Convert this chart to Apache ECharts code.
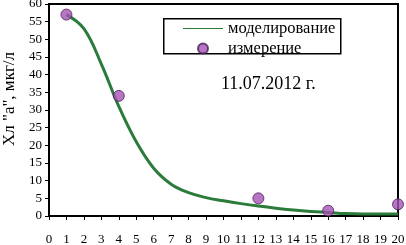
<!DOCTYPE html>
<html>
<head>
<meta charset="utf-8">
<script src="https://cdn.jsdelivr.net/npm/echarts@6/dist/echarts.min.js"></script>
<style>
  html, body { margin: 0; padding: 0; background: #fff; }
  #chart { width: 406px; height: 245px; }
</style>
</head>
<body>
<div id="chart"></div>
<script>
// модельная кривая (сутки, мкг/л)
var modelDays = [1, 2, 3, 4, 5, 6, 7, 8, 9, 10, 11, 12, 13, 14, 15, 16, 17, 18, 19, 20];
var modelVals = [57, 53, 43, 31, 21, 13.5, 9, 6.6, 5.2, 4.3, 3.5, 2.8, 2.2, 1.7, 1.3, 1.0, 0.7, 0.6, 0.6, 0.6];
// измерения
var measDays = [1, 4, 12, 16, 20];
var measVals = [57, 34, 5, 1.5, 3.3];

var serif = 'Liberation Serif';

var chart = echarts.init(document.getElementById('chart'));

chart.setOption({
    animation: false,
    textStyle: { fontFamily: serif, color: '#000' },
    grid: {
        left: 49, right: 8, top: 4, bottom: 29,
        show: true, borderColor: '#000', borderWidth: 2,
        containLabel: false,
        outerBoundsMode: 'none'
    },
    // рамка легенды
    graphic: [{
        type: 'rect',
        left: 163, top: 18, z: 90,
        shape: { width: 177, height: 35 },
        style: { fill: '#fff', stroke: '#000', lineWidth: 1.5 }
    }],
    title: {
        text: '11.07.2012 г.',
        left: 216, top: 70,
        textStyle: { fontFamily: serif, fontSize: 18, fontWeight: 'normal', color: '#000' }
    },
    legend: {
        orient: 'vertical',
        left: 163, top: 18, z: 100,
        padding: [2, 5, 0, 20],
        itemWidth: 40, itemHeight: 10, itemGap: 3,
        textStyle: { fontFamily: serif, fontSize: 16.5, color: '#000' },
        data: [
            { name: 'моделирование', icon: 'path://M0,0 L40,0 L40,1 L0,1 Z', itemStyle: { color: '#2b7b3b' } },
            { name: 'измерение', icon: 'circle' }
        ]
    },
    xAxis: {
        type: 'value',
        min: 0, max: 20, interval: 1,
        axisLine: { lineStyle: { color: '#000', width: 2 } },
        axisTick: { show: true, length: 4, lineStyle: { color: '#000' } },
        axisLabel: { margin: 17, fontFamily: serif, fontSize: 13, color: '#000' },
        splitLine: { show: false }
    },
    yAxis: {
        type: 'value',
        min: 0, max: 60, interval: 5,
        name: 'Хл "а", мкг/л',
        nameLocation: 'middle',
        nameGap: 24,
        nameTextStyle: { fontFamily: serif, fontSize: 17, color: '#000', padding: [0, 0, 0, 22] },
        axisLine: { show: true, lineStyle: { color: '#000', width: 2 } },
        axisTick: { show: true, length: 4, lineStyle: { color: '#000' } },
        axisLabel: { margin: 7, fontFamily: serif, fontSize: 13, color: '#000' },
        splitLine: { show: false }
    },
    series: [
        {
            name: 'моделирование',
            type: 'line',
            smooth: 0.4,
            symbol: 'none',
            lineStyle: { color: '#2b7b3b', width: 3 },
            itemStyle: { color: '#2b7b3b' },
            data: modelDays.map(function (d, i) { return [d, modelVals[i]]; }),
            z: 2
        },
        {
            name: 'измерение',
            type: 'scatter',
            symbolSize: 11,
            itemStyle: { color: '#a552b4', borderColor: '#4b1f57', borderWidth: 1 },
            data: measDays.map(function (d, i) { return [d, measVals[i]]; }),
            z: 3
        }
    ]
});
</script>
</body>
</html>
